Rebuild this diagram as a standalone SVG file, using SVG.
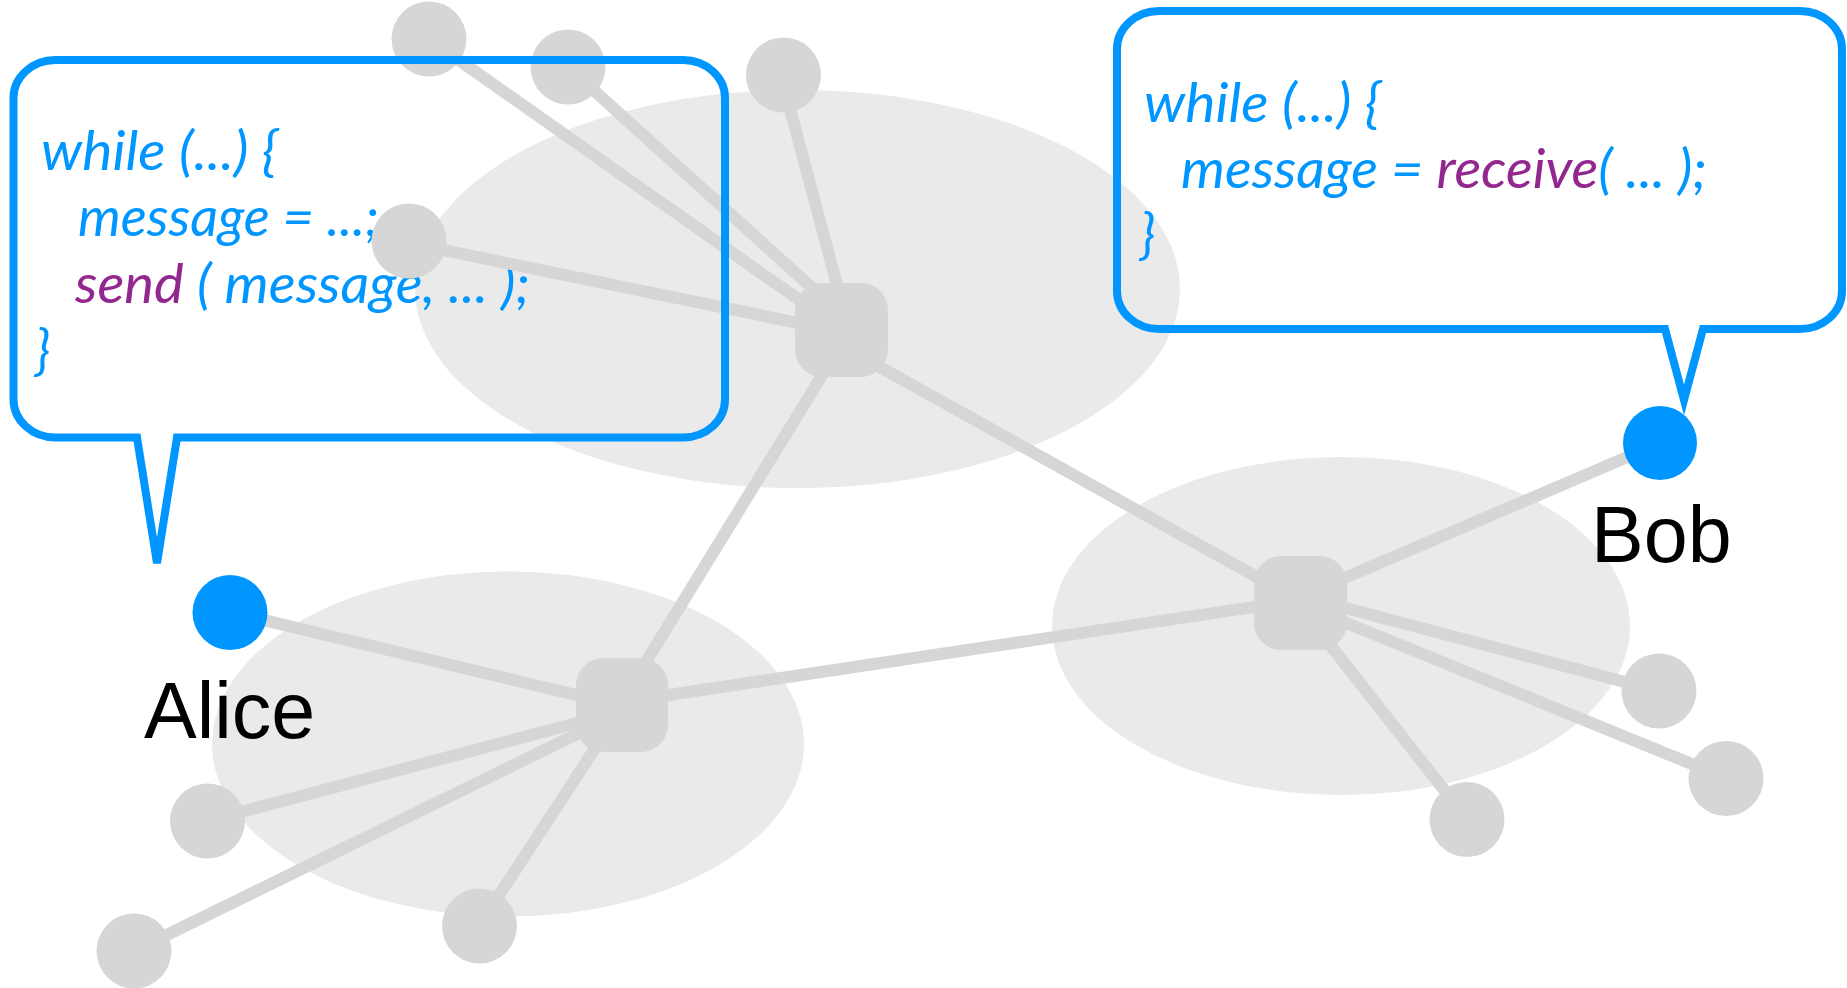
<svg xmlns="http://www.w3.org/2000/svg" width="1847" height="988" viewBox="0 0 1847 988">
<style>
.cluster{fill:#EAEAEA}
.edge{stroke:#D6D6D6;stroke-width:12;fill:none}
.leaf{fill:#D6D6D6}
.hub{fill:#D6D6D6}
.user{fill:#0096FF}
.bubble{fill:none;stroke:#0096FF;stroke-width:8;stroke-linejoin:miter;stroke-miterlimit:4}
.code{font-family:Lato,"Open Sans","Noto Sans",sans-serif;font-style:italic;font-size:54px;fill:#0096FF}
.fn{fill:#92278F}
.name{font-family:"Liberation Sans",Arial,sans-serif;font-size:79px;fill:#000}
</style>
<rect width="1847" height="988" fill="#FFFFFF"/>
<g id="clusters">
<ellipse class="cluster" cx="797.5" cy="289" rx="382.5" ry="199"/>
<ellipse class="cluster" cx="508" cy="744" rx="296" ry="172.5"/>
<ellipse class="cluster" cx="1341" cy="626" rx="289" ry="169"/>
</g>
<g id="code-alice">
<text class="code" x="41" y="170" textLength="237" lengthAdjust="spacingAndGlyphs">while (...) {</text>
<text class="code" x="78" y="236" textLength="301" lengthAdjust="spacingAndGlyphs">message = ...;</text>
<text class="code" x="75" y="303" textLength="455" lengthAdjust="spacingAndGlyphs"><tspan class="fn">send</tspan> ( message, ... );</text>
<text class="code" x="35" y="369">}</text>
</g>
<g id="code-bob">
<text class="code" x="1144" y="122" textLength="237" lengthAdjust="spacingAndGlyphs">while (...) {</text>
<text class="code" x="1181" y="188" textLength="526" lengthAdjust="spacingAndGlyphs">message = <tspan class="fn">receive</tspan>( ... );</text>
<text class="code" x="1140" y="253">}</text>
</g>
<g id="connectors">
<line class="edge" x1="429" y1="39" x2="842" y2="330"/>
<line class="edge" x1="568" y1="67" x2="842" y2="315"/>
<line class="edge" x1="781" y1="75" x2="849" y2="330"/>
<line class="edge" x1="409" y1="243" x2="842" y2="332"/>
<line class="edge" x1="850" y1="330" x2="620" y2="704"/>
<line class="edge" x1="842" y1="346" x2="1300" y2="601"/>
<line class="edge" x1="230" y1="612" x2="622" y2="706"/>
<line class="edge" x1="207" y1="821" x2="622" y2="711"/>
<line class="edge" x1="134" y1="951" x2="622" y2="712"/>
<line class="edge" x1="479" y1="926" x2="624" y2="704"/>
<line class="edge" x1="622" y1="702" x2="1300" y2="600"/>
<line class="edge" x1="1660" y1="443" x2="1300" y2="597"/>
<line class="edge" x1="1659" y1="691" x2="1300" y2="596"/>
<line class="edge" x1="1726" y1="778" x2="1300" y2="604"/>
<line class="edge" x1="1467" y1="819" x2="1297" y2="603"/>
</g>
<g id="hub-top"><rect class="hub" x="795" y="283" width="93" height="94" rx="27" ry="27"/></g>
<g id="hub-left"><rect class="hub" x="576" y="658" width="92" height="94" rx="27" ry="27"/></g>
<g id="hub-right"><rect class="hub" x="1254" y="556" width="93" height="94" rx="27" ry="27"/></g>
<g id="leaf-1"><circle class="leaf" cx="429" cy="39" r="37.5"/></g>
<g id="leaf-2"><circle class="leaf" cx="568" cy="67" r="37.5"/></g>
<g id="leaf-3"><circle class="leaf" cx="783.5" cy="75" r="37.5"/></g>
<g id="leaf-4"><circle class="leaf" cx="409" cy="241" r="37.5"/></g>
<g id="leaf-5"><circle class="leaf" cx="207.5" cy="821" r="37.5"/></g>
<g id="leaf-6"><circle class="leaf" cx="134" cy="951" r="37.5"/></g>
<g id="leaf-7"><circle class="leaf" cx="479.5" cy="926" r="37.5"/></g>
<g id="leaf-8"><circle class="leaf" cx="1659" cy="691" r="37.5"/></g>
<g id="leaf-9"><circle class="leaf" cx="1726" cy="778.5" r="37.5"/></g>
<g id="leaf-10"><circle class="leaf" cx="1467" cy="819.5" r="37.5"/></g>
<g id="alice">
<circle class="user" cx="230" cy="612.5" r="37.5"/>
<text class="name" x="144" y="738">Alice</text>
</g>
<g id="bob">
<circle class="user" cx="1660" cy="443" r="37"/>
<text class="name" x="1591" y="562" font-size="78">Bob</text>
</g>
<g id="bubble-alice">
<path class="bubble" d="M55.5 60 H683 A42 38 0 0 1 725 98 V399.5 A42 38 0 0 1 683 437.5 H177 L157 563 L137 437.5 H55.5 A42 38 0 0 1 13.5 399.5 V98 A42 38 0 0 1 55.5 60 Z"/>
</g>
<g id="bubble-bob">
<path class="bubble" d="M1159 11 H1800 A42 38 0 0 1 1842 49 V291 A42 38 0 0 1 1800 329 H1703 L1684 400 L1665 329 H1159 A42 38 0 0 1 1117 291 V49 A42 38 0 0 1 1159 11 Z"/>
</g>
</svg>
